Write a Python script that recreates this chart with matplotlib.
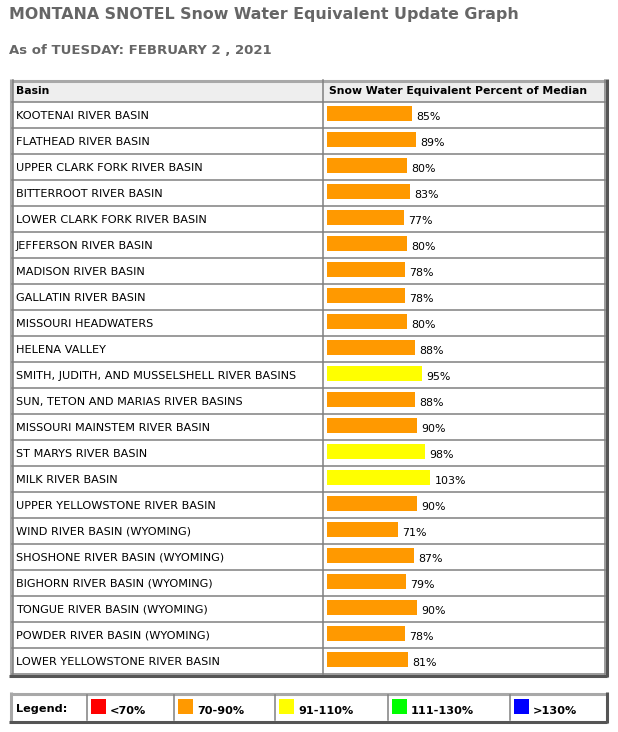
import matplotlib.pyplot as plt
from matplotlib.patches import Rectangle

basins = ["KOOTENAI RIVER BASIN", "FLATHEAD RIVER BASIN", "UPPER CLARK FORK RIVER BASIN",
          "BITTERROOT RIVER BASIN", "LOWER CLARK FORK RIVER BASIN", "JEFFERSON RIVER BASIN",
          "MADISON RIVER BASIN", "GALLATIN RIVER BASIN", "MISSOURI HEADWATERS",
          "HELENA VALLEY", "SMITH, JUDITH, AND MUSSELSHELL RIVER BASINS",
          "SUN, TETON AND MARIAS RIVER BASINS", "MISSOURI MAINSTEM RIVER BASIN",
          "ST MARYS RIVER BASIN", "MILK RIVER BASIN", "UPPER YELLOWSTONE RIVER BASIN",
          "WIND RIVER BASIN (WYOMING)", "SHOSHONE RIVER BASIN (WYOMING)",
          "BIGHORN RIVER BASIN (WYOMING)", "TONGUE RIVER BASIN (WYOMING)",
          "POWDER RIVER BASIN (WYOMING)", "LOWER YELLOWSTONE RIVER BASIN"]
pct = [85, 89, 80, 83, 77, 80, 78, 78, 80, 88, 95, 88, 90, 98, 103, 90, 71, 87, 79, 90, 78, 81]

legend_labels = ["<70%", "70-90%", "91-110%", "111-130%", ">130%"]
legend_colors = ["#ff0000", "#ff9900", "#ffff00", "#00ff00", "#0000ff"]


def pct_color(v):
    if v < 70:
        return legend_colors[0]
    if v <= 90:
        return legend_colors[1]
    if v <= 110:
        return legend_colors[2]
    if v <= 130:
        return legend_colors[3]
    return legend_colors[4]


W, H = 618, 732
fig = plt.figure(figsize=(W / 100, H / 100), dpi=100)
ax = fig.add_axes([0, 0, 1, 1])
ax.set_xlim(0, W)
ax.set_ylim(H, 0)
ax.axis('off')

gray = '#666666'
line_c = '#808080'
lw = 1.1

ax.text(9, 15, "MONTANA SNOTEL Snow Water Equivalent Update Graph", fontsize=11.4,
        fontweight='bold', color=gray, va='center', ha='left')
ax.text(9, 51, "As of TUESDAY: FEBRUARY 2 , 2021", fontsize=9.5,
        fontweight='bold', color=gray, va='center', ha='left')

# main table frame
x0, x1 = 9, 608
top, head_bot, row_h = 79, 102, 26
n = len(basins)
bot = head_bot + n * row_h
col_x = 323


def frame(xa, xb, ya, yb):
    ax.add_patch(Rectangle((xa, ya), xb - xa, yb - ya, facecolor='white', edgecolor='none'))
    ax.plot([xa + 1.5, xb], [ya + 1.5, ya + 1.5], color='#a8a8a8', lw=2.2, solid_capstyle='butt')
    ax.plot([xa + 1.5, xa + 1.5], [ya, yb], color='#a8a8a8', lw=2.2, solid_capstyle='butt')
    ax.plot([xa, xb - 1.5], [yb - 1.5, yb - 1.5], color='#555555', lw=2.2, solid_capstyle='butt')
    ax.plot([xb - 1.5, xb - 1.5], [ya, yb], color='#555555', lw=2.2, solid_capstyle='butt')


frame(x0, x1, top, bot + 3)
ax.add_patch(Rectangle((12, 80), x1 - 3 - 12, head_bot - 80, facecolor='#eeeeee', edgecolor='none'))
for k in range(n):
    y = head_bot + k * row_h
    ax.plot([12, x1 - 3], [y, y], color=line_c, lw=lw)
ax.plot([12, x1 - 3], [bot, bot], color=line_c, lw=lw)
ax.plot([12.5, 12.5], [80, bot], color=line_c, lw=lw)
ax.plot([col_x, col_x], [80, bot], color=line_c, lw=lw)
ax.plot([x1 - 3.5, x1 - 3.5], [80, bot], color=line_c, lw=lw)

ax.text(16, 91, "Basin", fontsize=7.8, fontweight='bold', va='center')
ax.text(329, 91, "Snow Water Equivalent Percent of Median", fontsize=7.8,
        fontweight='bold', va='center')
for k, name in enumerate(basins):
    ax.text(16, head_bot + k * row_h + 14, name, fontsize=8.15, va='center')

# bars in their own axes: 1 px per percent
bx0, bx1 = 327, 600
axb = fig.add_axes([bx0 / W, (H - bot) / H, (bx1 - bx0) / W, n * row_h / H])
axb.set_xlim(0, bx1 - bx0)
axb.set_ylim(n, 0)
axb.axis('off')
axb.patch.set_alpha(0)
ypos = [k + 11.5 / row_h for k in range(n)]
axb.barh(ypos, pct, height=15 / row_h, color=[pct_color(v) for v in pct], left=0)
for k, v in enumerate(pct):
    axb.text(v + 4.5, k + 15.5 / row_h, f"{v}%", fontsize=7.9, va='center', ha='left')

# legend table
ly0, ly1 = 692, 723
frame(x0, x1, ly0, ly1)
divs = [87, 174, 275, 388, 510]
for d in divs:
    ax.plot([d, d], [ly0 + 3, ly1 - 3], color=line_c, lw=lw)
ax.text(16, 709, "Legend:", fontsize=8.1, fontweight='bold', va='center')
for d, lab, c in zip(divs, legend_labels, legend_colors):
    ax.add_patch(Rectangle((d + 4, 699), 15, 15, facecolor=c, edgecolor='none'))
    ax.text(d + 23, 711, lab, fontsize=8.1, fontweight='bold', va='center')

fig.savefig('out.png', dpi=100)
